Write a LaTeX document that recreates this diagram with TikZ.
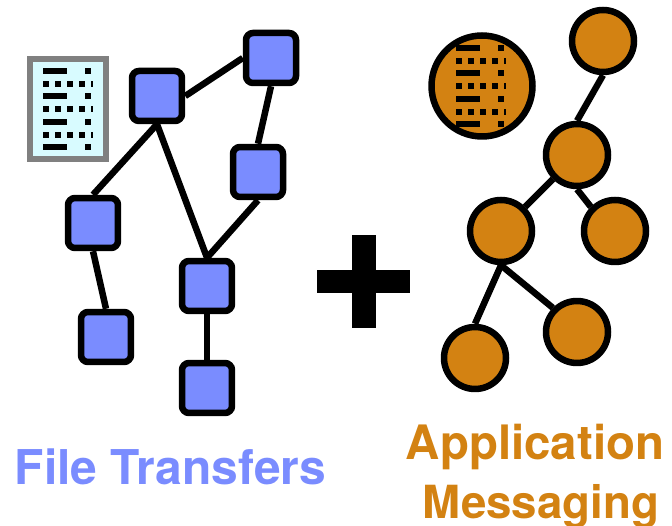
\documentclass[tikz,border=0pt]{standalone}
\usepackage{fontspec}
\setmainfont{TeX Gyre Heros}
\definecolor{fileblue}{HTML}{7A8CFF}
\definecolor{apporange}{HTML}{D38212}
\definecolor{doccyan}{HTML}{D8FBFF}
\tikzset{
	filenode/.style={draw=black, fill=fileblue, line width=6.5*0.02cm, rounded corners=0.14cm, minimum size=1cm, inner sep=0pt},
	appnode/.style={draw=black, fill=apporange, line width=6.5*0.02cm, circle, minimum size=1.24cm, inner sep=0pt},
	link/.style={line width=6.5*0.02cm},
	doclines/.pic={
		\foreach \y in {71, 96, 122, 147}{
			\fill (43, \y-3) rectangle (67, \y+3);
			\fill (85, \y-3) rectangle (91, \y+3);
		}
		\foreach \y in {84, 109, 135}{
			\foreach \x in {43, 55, 67, 79}{
				\fill (\x, \y-3) rectangle (\x+6, \y+3);
			}
			\fill (91, \y-3) rectangle (93, \y+3);
		}
	}
}
\begin{document}
\begin{tikzpicture}[x=0.02cm, y=-0.02cm]
		\useasboundingbox (0,0) rectangle (672,526);
		%document
		\node (doc) at (68,109) [draw=gray, fill=doccyan, line width=6*0.02cm, minimum width=1.52cm, minimum height=2.02cm, inner sep=0pt]{};
		\pic at (0,0) {doclines};
		
		%file transfer nodes
		\node (f1) at (157,96) [filenode]{};
		\node (f2) at (271,58) [filenode]{};
		\node (f3) at (258,172) [filenode]{};
		\node (f4) at (93,223) [filenode]{};
		\node (f5) at (207,286) [filenode]{};
		\node (f6) at (106,337) [filenode]{};
		\node (f7) at (207,388) [filenode]{};
		\draw[link] (f1.east) -- (f2.west);
		\draw[link] (f2.south) -- (f3.north);
		\draw[link] (f3.south) -- (f5.north);
		\draw[link] (f1.south) -- (f5.north);
		\draw[link] (f1.south) -- (f4.north);
		\draw[link] (f4.south) -- (f6.north);
		\draw[link] (f5) -- (f7);
		
		%plus sign
		\fill (317,270) rectangle (410,293);
		\fill (352,235) rectangle (376,328);
		
		%application messaging nodes
		\node (doccircle) at (482,86) [appnode, minimum size=2.02cm]{};
		\pic at (413,-23) {doclines};
		\node (a1) at (603,41) [appnode]{};
		\node (a2) at (577,155) [appnode]{};
		\node (a3) at (501,231) [appnode]{};
		\node (a4) at (615,231) [appnode]{};
		\node (a5) at (577,332) [appnode]{};
		\node (a6) at (475,358) [appnode]{};
		\draw[link] (a1.south) -- (a2.north);
		\draw[link] (a2.south west) -- (a3.north east);
		\draw[link] (a2.south) -- (a4.north west);
		\draw[link] (a3.south) -- (a5.north west);
		\draw[link] (a3.south) -- (a6.north);
		
		%labels
		\node (filelabel) at (170.5,484) [anchor=base, text=fileblue, font=\fontsize{27.3}{32}\selectfont\bfseries]{File Transfers};
		\node (applabel) at (535,459) [anchor=base, text=apporange, font=\fontsize{27}{32}\selectfont\bfseries]{Application};
		\node (msglabel) at (541,518) [anchor=base, text=apporange, font=\fontsize{26}{32}\selectfont\bfseries]{Messaging};
		\end{tikzpicture}
\end{document}
